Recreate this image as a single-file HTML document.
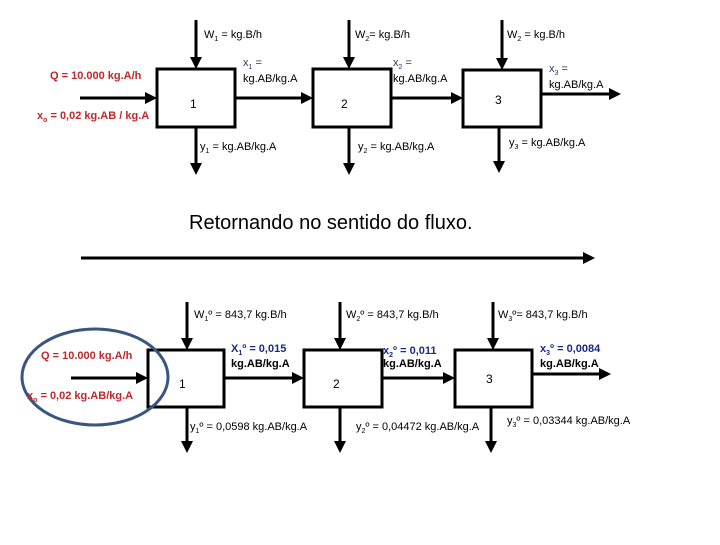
<!DOCTYPE html>
<html><head><meta charset="utf-8"><style>
body{margin:0;background:#fff}
svg text{font-family:"Liberation Sans",Arial,sans-serif}
</style></head><body>
<svg width="720" height="540" viewBox="0 0 720 540" xmlns="http://www.w3.org/2000/svg">
<defs><marker id="a" markerWidth="4" markerHeight="4" refX="3" refY="2" orient="auto" markerUnits="strokeWidth"><path d="M0,0 L4,2 L0,4 z" fill="#000"/></marker></defs>
<g stroke="#000" stroke-width="3" fill="none">
<rect x="157" y="69" width="78" height="58"/>
<rect x="313" y="69" width="78" height="58"/>
<rect x="463" y="70" width="78" height="57"/>
<line x1="80" y1="98" x2="154" y2="98" marker-end="url(#a)"/>
<line x1="235" y1="98" x2="310" y2="98" marker-end="url(#a)"/>
<line x1="391" y1="98" x2="460" y2="98" marker-end="url(#a)"/>
<line x1="541" y1="94" x2="618" y2="94" marker-end="url(#a)"/>
<line x1="196" y1="20" x2="196" y2="66" marker-end="url(#a)"/>
<line x1="349" y1="20" x2="349" y2="66" marker-end="url(#a)"/>
<line x1="502" y1="20" x2="502" y2="67" marker-end="url(#a)"/>
<line x1="196" y1="127" x2="196" y2="172" marker-end="url(#a)"/>
<line x1="349" y1="127" x2="349" y2="172" marker-end="url(#a)"/>
<line x1="499" y1="127" x2="499" y2="170" marker-end="url(#a)"/>
<line x1="81" y1="258" x2="592" y2="258" marker-end="url(#a)"/>
<rect x="148" y="350" width="76" height="57"/>
<rect x="304" y="350" width="78" height="57"/>
<rect x="455" y="350" width="77" height="57"/>
<line x1="71" y1="378" x2="145" y2="378" marker-end="url(#a)"/>
<line x1="224" y1="378" x2="301" y2="378" marker-end="url(#a)"/>
<line x1="382" y1="378" x2="452" y2="378" marker-end="url(#a)"/>
<line x1="532" y1="374" x2="608" y2="374" marker-end="url(#a)"/>
<line x1="187" y1="302" x2="187" y2="347" marker-end="url(#a)"/>
<line x1="340" y1="302" x2="340" y2="347" marker-end="url(#a)"/>
<line x1="493" y1="302" x2="493" y2="347" marker-end="url(#a)"/>
<line x1="187" y1="407" x2="187" y2="450" marker-end="url(#a)"/>
<line x1="340" y1="407" x2="340" y2="450" marker-end="url(#a)"/>
<line x1="491" y1="407" x2="491" y2="450" marker-end="url(#a)"/>
</g>
<ellipse cx="95" cy="377" rx="73" ry="48" fill="none" stroke="#3a5580" stroke-width="3"/>
<g font-size="11" fill="#000">
<text x="204" y="38">W<tspan font-size="7" dy="3">1</tspan><tspan dy="-3"> = kg.B/h</tspan></text>
<text x="355" y="38">W<tspan font-size="7" dy="3">2</tspan><tspan dy="-3">= kg.B/h</tspan></text>
<text x="507" y="38">W<tspan font-size="7" dy="3">2</tspan><tspan dy="-3"> = kg.B/h</tspan></text>
<text x="243" y="66" fill="#333366">x<tspan font-size="7" dy="3">1</tspan><tspan dy="-3"> =</tspan></text>
<text x="243" y="82">kg.AB/kg.A</text>
<text x="393" y="66" fill="#333366">x<tspan font-size="7" dy="3">2</tspan><tspan dy="-3"> =</tspan></text>
<text x="393" y="82">kg.AB/kg.A</text>
<text x="549" y="72" fill="#333366">x<tspan font-size="7" dy="3">3</tspan><tspan dy="-3"> =</tspan></text>
<text x="549" y="88">kg.AB/kg.A</text>
<text x="190" y="108" font-size="12">1</text>
<text x="341" y="108" font-size="12">2</text>
<text x="495" y="104" font-size="12">3</text>
<text x="200" y="150">y<tspan font-size="7" dy="3">1</tspan><tspan dy="-3"> = kg.AB/kg.A</tspan></text>
<text x="358" y="150">y<tspan font-size="7" dy="3">2</tspan><tspan dy="-3"> = kg.AB/kg.A</tspan></text>
<text x="509" y="146">y<tspan font-size="7" dy="3">3</tspan><tspan dy="-3"> = kg.AB/kg.A</tspan></text>
<text x="50" y="79" fill="#c0282b" font-weight="bold">Q = 10.000 kg.A/h</text>
<text x="37" y="119" fill="#c0282b" font-weight="bold">x<tspan font-size="7" dy="3">o</tspan><tspan dy="-3">  = 0,02 kg.AB / kg.A</tspan></text>
<text x="189" y="229" font-size="20">Retornando no sentido do fluxo.</text>
<text x="194" y="318">W<tspan font-size="7" dy="3">1</tspan><tspan dy="-3">º = 843,7 kg.B/h</tspan></text>
<text x="346" y="318">W<tspan font-size="7" dy="3">2</tspan><tspan dy="-3">º = 843,7 kg.B/h</tspan></text>
<text x="498" y="318">W<tspan font-size="7" dy="3">3</tspan><tspan dy="-3">º= 843,7 kg.B/h</tspan></text>
<text x="231" y="352" fill="#1a2a8a" font-weight="bold">X<tspan font-size="7" dy="3">1</tspan><tspan dy="-3">º = 0,015</tspan></text>
<text x="231" y="367" font-weight="bold">kg.AB/kg.A</text>
<text x="383" y="354" fill="#1a2a8a" font-weight="bold">x<tspan font-size="7" dy="3">2</tspan><tspan dy="-3">º = 0,011</tspan></text>
<text x="383" y="367" font-weight="bold">kg.AB/kg.A</text>
<text x="540" y="352" fill="#1a2a8a" font-weight="bold">x<tspan font-size="7" dy="3">3</tspan><tspan dy="-3">º = 0,0084</tspan></text>
<text x="540" y="367" font-weight="bold">kg.AB/kg.A</text>
<text x="179" y="388" font-size="12">1</text>
<text x="333" y="388" font-size="12">2</text>
<text x="486" y="383" font-size="12">3</text>
<text x="190" y="430">y<tspan font-size="7" dy="3">1</tspan><tspan dy="-3">º = 0,0598 kg.AB/kg.A</tspan></text>
<text x="356" y="430">y<tspan font-size="7" dy="3">2</tspan><tspan dy="-3">º = 0,04472 kg.AB/kg.A</tspan></text>
<text x="507" y="424">y<tspan font-size="7" dy="3">3</tspan><tspan dy="-3">º = 0,03344 kg.AB/kg.A</tspan></text>
<text x="41" y="359" fill="#c0282b" font-weight="bold">Q = 10.000 kg.A/h</text>
<text x="27" y="399" fill="#c0282b" font-weight="bold">x<tspan font-size="7" dy="3">o</tspan><tspan dy="-3">  = 0,02 kg.AB/kg.A</tspan></text>
</g>
</svg>
</body></html>
